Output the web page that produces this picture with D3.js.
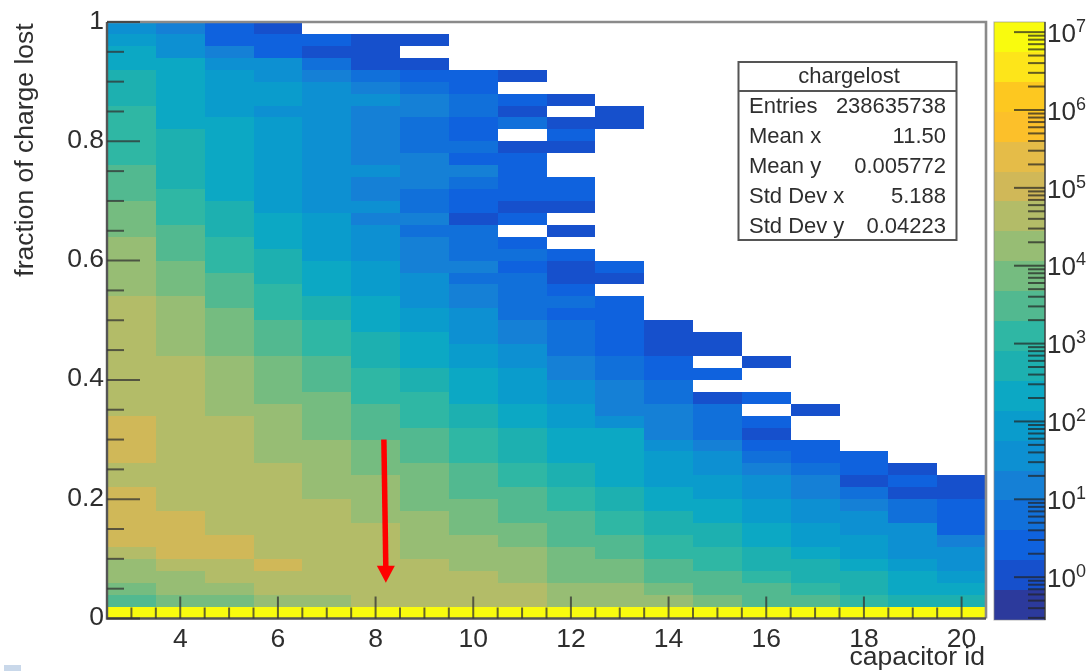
<!DOCTYPE html>
<html>
<head>
<meta charset="utf-8">
<script src="https://cdn.jsdelivr.net/npm/d3@7/dist/d3.min.js"></script>
<style>
html,body{margin:0;padding:0;background:#fff;overflow:hidden}
svg{display:block;filter:blur(0.5px)}
text{font-family:"Liberation Sans",Arial,sans-serif;fill:#2e2e2e}
</style>
</head>
<body>
<svg id="c" width="1089" height="671"></svg>
<script>
const capacitors = [3,4,5,6,7,8,9,10,11,12,13,14,15,16,17,18,19,20];
const xTickLabels = [4,6,8,10,12,14,16,18,20];
const yTickLabels = ["0","0.2","0.4","0.6","0.8","1"];
const yTickValues = [0,0.2,0.4,0.6,0.8,1];
const zDecades = [0,1,2,3,4,5,6,7];
const rowWidth = 0.02;

// counts per fraction bin, lowest bin first, one list per capacitor
const cap3  = [13000000,3000,7000,17000,17000,40000,100000,100000,100000,100000,100000,40000,40000,100000,100000,100000,100000,40000,40000,40000,40000,40000,40000,40000,40000,40000,40000,17000,17000,17000,17000,17000,7000,7000,7000,3000,3000,3000,1200,1200,1200,1200,1200,500,500,500,220,220,90,40];
const cap4  = [13000000,7000,17000,17000,40000,100000,100000,100000,100000,40000,40000,40000,40000,40000,40000,40000,40000,40000,40000,40000,40000,40000,17000,17000,17000,17000,17000,7000,7000,7000,3000,3000,3000,1200,1200,1200,500,500,500,500,500,220,220,220,220,220,220,40,40,15];
const cap5  = [13000000,7000,17000,40000,40000,100000,100000,40000,40000,40000,40000,40000,40000,40000,40000,40000,40000,17000,17000,17000,17000,17000,7000,7000,7000,7000,3000,3000,3000,1200,1200,1200,500,500,500,220,220,220,220,220,220,220,90,90,90,90,40,15,2,2];
const cap6  = [13000000,17000,40000,40000,100000,40000,40000,40000,40000,40000,40000,40000,40000,17000,17000,17000,17000,17000,7000,7000,7000,7000,3000,3000,3000,1200,1200,1200,500,500,500,220,220,220,90,90,90,90,90,90,90,90,40,90,90,40,40,2,2,1];
const cap7  = [13000000,17000,40000,40000,40000,40000,40000,40000,40000,40000,17000,17000,17000,17000,17000,7000,7000,7000,7000,3000,3000,3000,1200,1200,1200,500,500,220,220,220,90,90,90,90,40,40,40,40,40,40,40,40,40,40,40,15,6,1,2];
const cap8  = [13000000,40000,40000,40000,40000,40000,40000,40000,17000,17000,17000,17000,7000,7000,7000,3000,3000,3000,1200,1200,1200,500,500,500,220,220,220,90,90,90,40,40,40,15,40,15,15,40,15,15,15,15,15,40,15,6,1,1,1];
const cap9  = [13000000,40000,40000,40000,40000,17000,17000,17000,17000,7000,7000,7000,7000,3000,3000,3000,1200,1200,1200,500,500,220,220,220,90,90,40,40,40,15,15,15,6,15,6,6,15,15,15,6,6,6,15,15,6,2,1,0,1];
const cap10 = [13000000,40000,40000,40000,17000,17000,17000,7000,7000,7000,3000,3000,3000,1200,1200,1200,500,500,220,220,220,90,90,40,40,40,15,15,6,15,6,6,6,1,2,2,6,15,2,6,2,2,6,6,2,2];
const cap11 = [13000000,40000,40000,17000,17000,17000,7000,7000,3000,3000,3000,1200,1200,500,500,500,220,220,90,90,90,40,40,15,15,6,6,6,6,2,6,2,0,2,1,2,2,2,2,1,0,6,1,2,0,1];
const cap12 = [13000000,17000,17000,7000,7000,7000,3000,3000,3000,1200,1200,500,500,220,220,220,90,90,40,40,15,15,6,6,6,2,6,2,1,1,2,0,1,0,1,2,2,0,0,1,2,1,0,1];
const cap13 = [13000000,17000,17000,7000,7000,3000,3000,1200,1200,500,500,220,220,220,220,220,40,15,15,15,6,6,2,2,2,2,2,0,1,2,0,0,0,0,0,0,0,0,0,0,0,1,1];
const cap14 = [13000000,17000,7000,3000,3000,1200,1200,500,500,220,220,90,90,90,40,15,15,15,6,6,2,2,1,1,1];
const cap15 = [13000000,7000,3000,3000,1200,1200,500,500,220,220,90,90,40,40,15,6,6,6,1,0,2,0,1,1];
const cap16 = [13000000,3000,3000,1200,500,500,220,220,90,90,40,40,15,6,2,1,2,0,2,0,0,1];
const cap17 = [13000000,3000,1200,500,500,220,90,90,40,40,15,15,6,2,2,0,0,1];
const cap18 = [13000000,1200,500,500,220,90,90,40,40,15,6,1,2,2];
const cap19 = [13000000,500,220,220,90,40,40,40,6,6,1,2,1];
const cap20 = [13000000,500,220,90,40,40,15,2,2,2,1,1];
const columns = [cap3,cap4,cap5,cap6,cap7,cap8,cap9,cap10,cap11,cap12,cap13,cap14,cap15,cap16,cap17,cap18,cap19,cap20];

const paletteBands = ["#2c3a9c","#1650cc","#0f62de","#1170da","#1580d6","#0d90d2","#0a9ccc","#0ca8c4","#1db0b0","#2fb7a4","#52b990","#75bc80","#97bd74","#b3bc68","#d0b858","#e5bc48","#fcc02a","#fdc820","#fde51a","#f9fb0e"];
const zLogDomain = [-0.55,7.13];

const statsTitle = "chargelost";
const statsNames = ["Entries","Mean x","Mean y","Std Dev x","Std Dev y"];
const statsValues = ["238635738","11.50","0.005772","5.188","0.04223"];
const xTitle = "capacitor id";
const yTitle = "fraction of charge lost";
const arrowFrom = {x:8.17, y:0.3};
const arrowTo = {x:8.21, y:0.06};

const svg = d3.select("#c");
const x = d3.scaleLinear().domain([2.5,20.5]).range([107,986]);
const y = d3.scaleLinear().domain([0,1]).range([618.5,22]);
const color = d3.scaleQuantize().domain(zLogDomain).range(paletteBands);
const zY = d3.scaleLinear().domain(zLogDomain).range([620,22]);

// heat map cells
const cells = [];
columns.forEach((col,i)=>col.forEach((v,r)=>{ if(v>0) cells.push({cap:capacitors[i],r,v}); }));
svg.append("g").selectAll("rect").data(cells).join("rect")
  .attr("x",d=>x(d.cap-0.5)).attr("width",d=>x(d.cap+0.5)-x(d.cap-0.5))
  .attr("y",d=>y((d.r+1)*rowWidth)).attr("height",d=>y(d.r*rowWidth)-y((d.r+1)*rowWidth))
  .attr("fill",d=>color(Math.log10(d.v))).attr("shape-rendering","crispEdges");

// frame
const frame = svg.append("g").attr("fill","none");
frame.append("path").attr("d",`M${x.range()[0]},${y(1)}H${x.range()[1]}V${y(0)}`).attr("stroke","#8a8a8a").attr("stroke-width",2.6);
frame.append("path").attr("d",`M${x.range()[0]},${y(1)}V${y(0)}H${x.range()[1]}`).attr("stroke","#555").attr("stroke-width",2.4);

// x ticks
const xMinor = d3.range(3,20.01,0.5);
svg.append("g").selectAll("line").data(xMinor).join("line")
  .attr("x1",d=>x(d)).attr("x2",d=>x(d)).attr("y1",y(0))
  .attr("y2",d=>y(0)-(d%2===0?22:11)).attr("stroke","#333").attr("stroke-opacity",0.75).attr("stroke-width",2);
svg.append("g").selectAll("text").data(xTickLabels).join("text")
  .attr("x",d=>x(d)).attr("y",647).attr("text-anchor","middle").attr("font-size",26.5).text(d=>d);

// y ticks
const yMinor = d3.range(0,1.001,0.05);
svg.append("g").selectAll("line").data(yMinor).join("line")
  .attr("x1",x(2.5)).attr("y1",d=>y(d)).attr("y2",d=>y(d))
  .attr("x2",d=>x(2.5)+(Math.abs(d/0.2-Math.round(d/0.2))<1e-6?33:17))
  .attr("stroke","#333").attr("stroke-opacity",0.75).attr("stroke-width",2);
svg.append("g").selectAll("text").data(yTickValues).join("text")
  .attr("x",104).attr("y",d=>y(d)+6.5).attr("text-anchor","end").attr("font-size",26.5)
  .text((d,i)=>yTickLabels[i]);

// axis titles
svg.append("text").attr("x",985).attr("y",665).attr("text-anchor","end").attr("font-size",26.5).text(xTitle);
svg.append("text").attr("transform","translate(33,150) rotate(-90)").attr("text-anchor","middle").attr("font-size",26.5).text(yTitle);

// colour bar
const bandStep = (zLogDomain[1]-zLogDomain[0])/paletteBands.length;
svg.append("g").selectAll("rect").data(paletteBands).join("rect")
  .attr("x",994).attr("width",51)
  .attr("y",(d,i)=>zY(zLogDomain[0]+(i+1)*bandStep))
  .attr("height",(d,i)=>zY(zLogDomain[0]+i*bandStep)-zY(zLogDomain[0]+(i+1)*bandStep))
  .attr("fill",d=>d).attr("shape-rendering","crispEdges");
svg.append("path").attr("d",`M994,22H1045V620H994Z`).attr("fill","none").attr("stroke","#8a8a8a").attr("stroke-width",1.2).attr("stroke-opacity",0.6);
svg.append("line").attr("x1",1045).attr("x2",1045).attr("y1",22).attr("y2",620).attr("stroke","#333").attr("stroke-opacity",0.8).attr("stroke-width",1.6);
const zTicks = [];
for(let e=-1;e<=7;e++) for(let m=1;m<=9;m++){
  const l=e+Math.log10(m);
  if(l>=zLogDomain[0] && l<=zLogDomain[1]) zTicks.push({l,major:m===1});
}
svg.append("g").selectAll("line").data(zTicks).join("line")
  .attr("x1",1045).attr("y1",d=>zY(d.l)).attr("y2",d=>zY(d.l))
  .attr("x2",d=>d.major?1014:1028).attr("stroke","#222").attr("stroke-opacity",0.7).attr("stroke-width",2);
const zLab = svg.append("g").selectAll("text").data(zDecades).join("text")
  .attr("x",1047).attr("y",d=>zY(d)+9.7).attr("font-size",26);
zLab.append("tspan").text("10");
zLab.append("tspan").attr("dy",-10).attr("font-size",18).text(d=>d);

// stats box
const box = svg.append("g");
box.append("rect").attr("x",738.5).attr("y",62).attr("width",218).attr("height",178).attr("fill","#fff").attr("stroke","#555").attr("stroke-width",2);
box.append("line").attr("x1",738.5).attr("x2",956.5).attr("y1",91).attr("y2",91).attr("stroke","#555").attr("stroke-width",2);
box.append("text").attr("x",849).attr("y",83).attr("text-anchor","middle").attr("font-size",22).text(statsTitle);
box.selectAll("text.n").data(statsNames).join("text").attr("class","n")
  .attr("x",749).attr("y",(d,i)=>113+i*30).attr("font-size",22).text(d=>d);
box.selectAll("text.v").data(statsValues).join("text").attr("class","v")
  .attr("x",946).attr("y",(d,i)=>113+i*30).attr("text-anchor","end").attr("font-size",22).text(d=>d);

// annotation arrow
const ax1=x(arrowFrom.x), ay1=y(arrowFrom.y), ax2=x(arrowTo.x), ay2=y(arrowTo.y);
svg.append("line").attr("x1",ax1).attr("y1",ay1).attr("x2",ax2).attr("y2",ay2-14).attr("stroke","#ff0000").attr("stroke-width",5.5);
svg.append("path").attr("d",`M${ax2-9},${ay2-17}L${ax2+9},${ay2-17}L${ax2},${ay2}Z`).attr("fill","#ff0000");

// faint mark at the lower left edge
svg.append("rect").attr("x",4).attr("y",665).attr("width",17).attr("height",6).attr("fill","#c9d8ea");
</script>
</body>
</html>
